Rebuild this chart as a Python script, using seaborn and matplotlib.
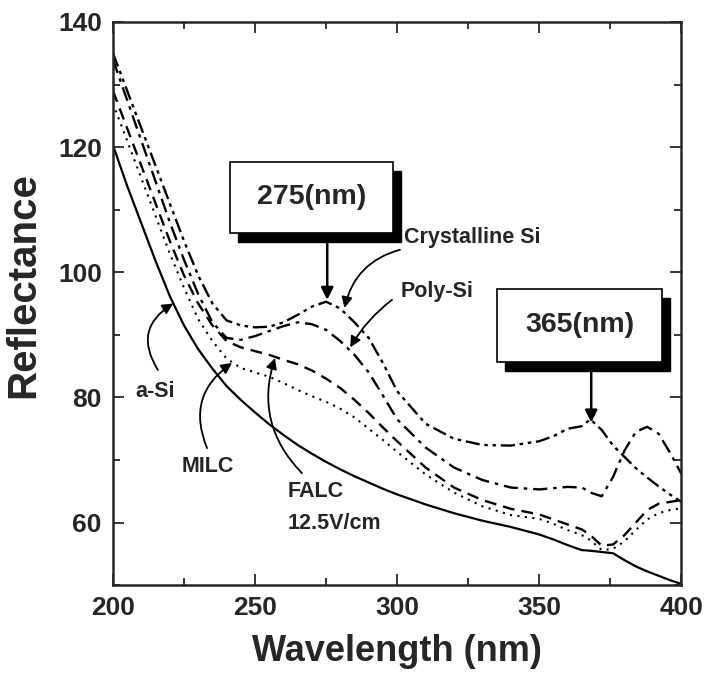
import matplotlib
matplotlib.use("Agg")
import matplotlib.pyplot as plt
import numpy as np
import seaborn as sns
from matplotlib.patches import Rectangle
from matplotlib.ticker import MultipleLocator

# wavelength grid (nm)
wavelength = [200, 205, 210, 215, 220, 225, 230, 235, 240, 245, 250, 255, 260, 265,
              270, 275, 280, 285, 290, 295, 300, 310, 320, 330, 340, 350, 355, 360,
              365, 368, 372, 376, 380, 384, 388, 392, 396, 400]

a_si = [120.3, 113.8, 107.8, 101.8, 96.2, 91.5, 87.7, 84.6, 81.8, 79.6, 77.6, 75.7,
        74.0, 72.4, 71.0, 69.7, 68.5, 67.4, 66.4, 65.4, 64.5, 62.9, 61.5, 60.3, 59.3,
        58.1, 57.3, 56.4, 55.6, 55.5, 55.3, 55.1, 54.0, 53.0, 52.2, 51.5, 50.8, 50.2]

milc = [127.0, 121.0, 115.0, 109.0, 103.0, 97.5, 92.5, 89.0, 86.2, 84.7, 84.0, 83.3,
        82.3, 81.2, 80.2, 79.3, 78.2, 76.8, 75.0, 73.2, 71.3, 67.7, 64.8, 62.6, 61.2,
        60.6, 59.8, 58.8, 58.0, 57.2, 55.6, 55.8, 57.0, 58.8, 60.5, 61.5, 62.0, 62.3]

falc = [129.0, 123.0, 117.0, 111.0, 105.0, 99.5, 95.0, 91.5, 89.0, 88.0, 87.4, 86.8,
        86.0, 85.3, 84.3, 83.0, 81.5, 79.6, 77.5, 75.2, 73.0, 68.8, 65.6, 63.6, 62.2,
        61.3, 60.5, 59.7, 58.9, 58.0, 56.3, 56.5, 58.0, 60.0, 62.0, 63.0, 63.3, 63.6]

poly_si = [134.0, 127.5, 121.0, 114.5, 108.0, 102.0, 96.5, 92.0, 89.5, 89.2, 89.8,
           90.6, 91.4, 92.0, 91.7, 90.8, 89.0, 86.8, 84.0, 80.3, 76.5, 72.0, 68.8,
           66.8, 65.6, 65.3, 65.5, 65.7, 65.6, 64.8, 64.2, 67.3, 71.5, 74.5, 75.3,
           74.2, 71.2, 67.8]

crystalline_si = [135.0, 129.0, 123.0, 117.0, 111.0, 105.0, 99.5, 95.0, 92.3, 91.5,
                  91.2, 91.3, 92.0, 93.2, 94.5, 95.3, 94.2, 92.0, 89.5, 85.5, 81.0,
                  75.8, 73.4, 72.4, 72.3, 73.0, 73.8, 75.0, 75.4, 76.5, 74.8, 72.3,
                  70.5, 68.7, 67.2, 65.8, 64.5, 63.3]

series = [
    (a_si, "-", 1.6),
    (milc, (0, (1, 2.6)), 1.5),
    (falc, (0, (5, 3)), 1.7),
    (poly_si, (0, (6, 2.5, 1.5, 2.5)), 1.7),
    (crystalline_si, (0, (6, 2, 1.5, 2, 1.5, 2)), 1.7),
]

sns.set_style("ticks")
plt.rcParams["font.family"] = ["Liberation Sans", "DejaVu Sans"]
plt.rcParams["font.weight"] = "bold"

fig, ax = plt.subplots(figsize=(7.06, 6.86), dpi=100)
fig.subplots_adjust(left=0.160, right=0.965, bottom=0.147, top=0.968)

for vals, ls, lw in series:
    sns.lineplot(x=wavelength, y=vals, ax=ax, color="black", linestyle=ls,
                 linewidth=lw, estimator=None, sort=False)

ax.set_xlim(200, 400)
ax.set_ylim(50, 140)
ax.xaxis.set_major_locator(MultipleLocator(50))
ax.xaxis.set_minor_locator(MultipleLocator(25))
ax.yaxis.set_major_locator(MultipleLocator(20))
ax.yaxis.set_minor_locator(MultipleLocator(10))
ax.tick_params(which="both", direction="in", top=True, right=True, width=1.3,
               labelsize=19, pad=8)
ax.tick_params(which="major", length=8)
ax.tick_params(which="minor", length=5)
for sp in ax.spines.values():
    sp.set_linewidth(1.8)
    sp.set_visible(True)

ax.set_xlabel("Wavelength (nm)", fontsize=26, fontweight="bold", labelpad=10)
ax.set_ylabel("Reflectance", fontsize=29, fontweight="bold")
ax.yaxis.set_label_coords(-0.125, 0.533)

# boxed wavelength markers with drop shadow
def shadow_box(x0, y0, w, h, label, arrow_x, arrow_tip):
    ax.add_patch(Rectangle((x0 + 2.8, y0 - 1.4), w, h, fc="black", ec="black",
                           zorder=5))
    ax.add_patch(Rectangle((x0, y0), w, h, fc="white", ec="black", lw=1.2,
                           zorder=6))
    ax.text(x0 + w / 2, y0 + h / 2, label, ha="center", va="center",
            fontsize=20.5, fontweight="bold", zorder=7)
    ax.annotate("", xy=(arrow_x, arrow_tip), xytext=(arrow_x, y0 - 1.4),
                arrowprops=dict(arrowstyle="-|>", color="black", lw=1.8,
                                mutation_scale=18, shrinkA=0, shrinkB=0))

shadow_box(241.2, 106.3, 57.4, 11.3, "275(nm)", 275.4, 95.6)
shadow_box(335.2, 85.7, 58.1, 11.6, "365(nm)", 368.3, 76.0)

# curve labels with curved arrows
def label_arrow(text, pos, tail, tip, rad, ha="center"):
    ax.text(pos[0], pos[1], text, ha=ha, va="center", fontsize=15.5,
            fontweight="bold")
    ax.annotate("", xy=tip, xytext=tail,
                arrowprops=dict(arrowstyle="-|>", color="black", lw=1.3,
                                mutation_scale=16, shrinkA=0, shrinkB=0,
                                connectionstyle=f"arc3,rad={rad}"))

label_arrow("Crystalline Si", (302.5, 105.5), (301.0, 103.6), (281.5, 94.3), 0.3,
            ha="left")
label_arrow("Poly-Si", (314.0, 97.0), (298.2, 95.6), (283.5, 88.0), 0.1)
label_arrow("a-Si", (214.8, 80.9), (215.8, 84.4), (221.2, 95.0), -0.5)
label_arrow("MILC", (233.5, 68.9), (233.1, 71.9), (241.9, 85.5), -0.4)
label_arrow("FALC", (261.3, 64.9), (266.5, 67.9), (257.0, 86.3), -0.3, ha="left")
ax.text(261.3, 59.9, "12.5V/cm", ha="left", va="center", fontsize=15.5,
        fontweight="bold")

fig.savefig("out.png", dpi=100)
